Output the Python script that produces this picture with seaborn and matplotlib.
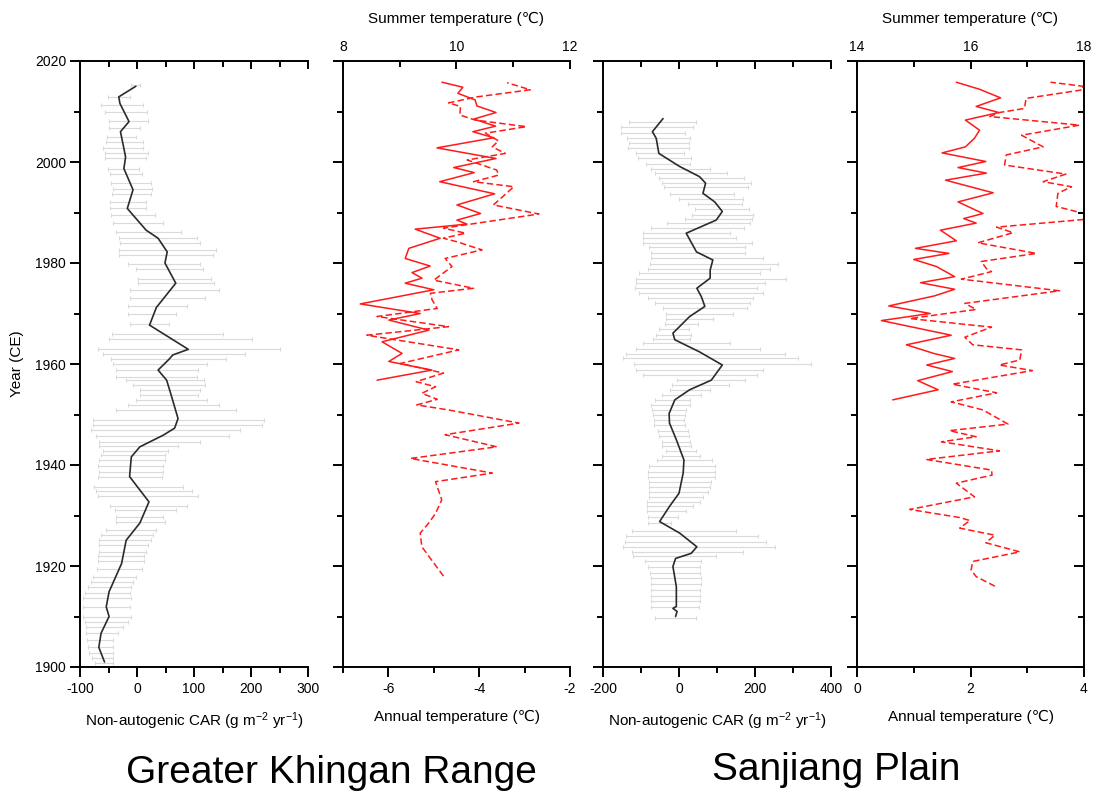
import matplotlib
matplotlib.use("Agg")
import matplotlib.pyplot as plt
import seaborn as sns
import numpy as np
from matplotlib.ticker import MultipleLocator

sns.set_style("ticks")
plt.rcParams["font.family"] = ["Liberation Sans", "DejaVu Sans"]
plt.rcParams["mathtext.default"] = "regular"
plt.rcParams["axes.unicode_minus"] = False
for key in ("text.color", "axes.labelcolor", "xtick.color", "ytick.color", "axes.edgecolor"):
    plt.rcParams[key] = "black"

# ---------------- Greater Khingan Range ----------------
# smoothed non-autogenic carbon accumulation rate
gkr_car_year = [2015.0, 2012.9, 2011.6, 2008.0, 2006.0, 2001.0, 1998.7, 1994.5, 1990.8, 1986.5,
                1984.9, 1982.2, 1980.0, 1976.0, 1971.2, 1967.7, 1962.9, 1961.8, 1960.8, 1958.8,
                1956.8, 1954.2, 1949.2, 1947.3, 1945.9, 1943.6, 1941.6, 1937.7, 1932.7, 1928.5,
                1925.1, 1920.5, 1914.9, 1911.9, 1910.0, 1906.7, 1903.9, 1901.0]
gkr_car = [-2, -32, -30, -14, -29, -20, -23, -7, -17, 16,
           37, 53, 49, 68, 34, 22, 90, 63, 55, 37,
           52, 59, 72, 66, 46, 5, -10, -13, 21, 5,
           -19, -27, -49, -54, -49, -63, -67, -57]

# sample-level uncertainty ranges
gkr_err_year = [2015.2, 2012.9, 2011.3, 2010.0, 2008.1, 2006.7, 2004.9, 2004.0, 2002.7, 2001.7,
                2000.7, 1998.7, 1997.6, 1995.8, 1994.6, 1993.7, 1992.1, 1990.8, 1989.5, 1987.9,
                1986.2, 1984.9, 1983.9, 1982.6, 1981.6, 1979.9, 1978.9, 1976.8, 1976.0, 1974.6,
                1973.0, 1971.4, 1970.0, 1967.9, 1965.9, 1964.9, 1962.9, 1962.0, 1960.9, 1960.0,
                1958.8, 1957.5, 1956.8, 1955.8, 1954.9, 1953.9, 1952.9, 1951.9, 1950.9, 1948.9,
                1947.9, 1946.9, 1945.8, 1944.6, 1943.8, 1942.8, 1942.0, 1941.0, 1939.8, 1938.7,
                1937.7, 1935.7, 1934.9, 1933.9, 1931.9, 1931.0, 1929.8, 1928.8, 1927.1, 1926.1,
                1925.2, 1924.2, 1922.8, 1921.9, 1920.9, 1919.5, 1917.8, 1916.9, 1915.9, 1914.6,
                1913.6, 1911.9, 1910.0, 1909.0, 1908.0, 1906.7, 1905.4, 1903.9, 1902.7, 1901.7,
                1900.7]
gkr_err_lo = [-11, -51, -63, -57, -49, -49, -52, -54, -59, -57,
              -57, -51, -47, -45, -42, -43, -47, -48, -45, -42,
              -36, -31, -29, -31, -31, -16, -2, 2, 2, -13,
              -13, -16, -16, -13, -43, -50, -68, -60, -45, -42,
              -37, -37, -19, -7, 5, 5, -1, -16, -36, -77,
              -77, -80, -72, -66, -66, -60, -63, -67, -69, -67,
              -69, -75, -72, -69, -48, -39, -36, -36, -55, -63,
              -66, -67, -67, -69, -69, -70, -77, -80, -86, -92,
              -94, -95, -94, -92, -90, -89, -88, -86, -85, -79,
              -73]
gkr_err_hi = [6, -13, 10, 18, 19, 5, -2, 10, 10, 19,
              16, 4, 8, 24, 27, 25, 15, 15, 31, 45,
              78, 106, 110, 138, 134, 110, 115, 129, 135, 143,
              120, 87, 69, 57, 150, 201, 250, 190, 157, 122,
              107, 106, 117, 119, 110, 107, 122, 144, 174, 223,
              219, 181, 162, 110, 72, 54, 49, 49, 46, 46,
              43, 81, 96, 107, 87, 69, 46, 49, 34, 28,
              25, 19, 15, 13, 13, 8, -1, -7, -10, -12,
              -10, -12, -10, -16, -25, -33, -42, -42, -42, -42,
              -42]

# reconstructed temperatures
gkr_ann_year = [2015.8, 2014.8, 2013.6, 2012.3, 2011.1, 2009.8, 2008.5, 2007.1, 2006.0, 2004.8,
                2002.8, 2000.7, 1998.9, 1997.9, 1996.1, 1993.7, 1991.5, 1989.8, 1988.5, 1987.7,
                1986.7, 1984.9, 1982.9, 1980.9, 1979.4, 1978.1, 1977.0, 1976.0, 1974.7, 1971.9,
                1970.0, 1968.7, 1966.7, 1964.4, 1962.1, 1960.5, 1958.8, 1956.8]
gkr_ann = [-4.82, -4.36, -4.47, -4.09, -4.05, -3.63, -4.12, -3.64, -4.14, -3.68,
           -4.93, -3.63, -4.56, -4.11, -4.87, -3.66, -4.49, -3.97, -4.49, -4.27,
           -5.41, -4.86, -5.55, -5.63, -5.08, -5.48, -5.26, -5.63, -5.00, -6.62,
           -5.30, -5.99, -5.11, -6.14, -5.70, -5.99, -5.04, -6.25]

gkr_sum_year = [2015.7, 2014.3, 2012.9, 2011.7, 2011.0, 2009.3, 2008.3, 2007.0, 2005.7, 2004.2,
                2003.0, 2001.7, 2000.4, 1998.4, 1997.4, 1996.1, 1995.1, 1991.5, 1989.7, 1986.9,
                1985.9, 1984.9, 1984.2, 1982.6, 1980.9, 1979.3, 1976.6, 1975.0, 1974.0, 1972.7,
                1971.0, 1969.4, 1967.4, 1965.7, 1962.8, 1960.1, 1958.2, 1956.5, 1955.5, 1954.2,
                1953.0, 1951.9, 1950.9, 1948.3, 1946.0, 1943.6, 1941.3, 1938.4, 1936.7, 1933.1,
                1930.4, 1928.5, 1926.5, 1923.8, 1921.5, 1918.0]
gkr_sum = [10.89, 11.30, 10.36, 9.86, 10.07, 10.06, 10.33, 11.23, 10.51, 10.74,
           10.63, 10.86, 10.19, 10.71, 10.74, 10.30, 11.01, 10.65, 11.45, 9.77,
           10.16, 9.77, 10.01, 10.45, 9.80, 9.92, 9.60, 10.30, 9.54, 9.57,
           9.66, 8.60, 9.86, 8.42, 10.04, 9.01, 9.77, 9.29, 9.63, 9.39,
           9.66, 9.30, 9.86, 11.10, 9.80, 10.71, 9.19, 10.63, 9.63, 9.74,
           9.63, 9.51, 9.36, 9.39, 9.54, 9.77]

# ---------------- Sanjiang Plain ----------------
sj_car_year = [2008.6, 2006.0, 2004.7, 2001.7, 1999.1, 1997.1, 1995.8, 1993.8, 1992.1, 1990.2,
               1988.5, 1985.9, 1982.2, 1980.6, 1978.6, 1977.0, 1975.0, 1973.3, 1971.4, 1969.4,
               1966.1, 1964.8, 1962.4, 1959.8, 1956.8, 1954.9, 1952.9, 1950.2, 1948.3, 1945.0,
               1941.0, 1938.4, 1934.4, 1931.8, 1928.8, 1926.5, 1923.8, 1922.5, 1921.5, 1919.9,
               1915.9, 1912.0, 1911.6, 1911.0, 1910.0]
sj_car = [-42, -70, -60, -53, 2, 54, 70, 63, 94, 114,
          98, 19, 46, 89, 82, 82, 47, 59, 68, 28,
          -16, -11, 54, 114, 85, 28, -11, -26, -25, -7,
          13, 11, 0, -25, -51, 2, 47, 32, -9, -16,
          -7, -7, -16, -5, -9]

sj_err_year = [2008.0, 2006.9, 2005.8, 2004.7, 2003.7, 2002.8, 2001.7, 2000.7, 1999.7, 1998.7,
               1997.8, 1996.8, 1995.9, 1995.0, 1993.7, 1992.6, 1991.7, 1990.6, 1989.6, 1988.8,
               1987.9, 1986.9, 1986.0, 1984.9, 1983.9, 1983.1, 1981.9, 1980.9, 1979.9, 1978.9,
               1978.0, 1976.8, 1976.0, 1975.0, 1974.0, 1973.0, 1972.0, 1971.0, 1970.0, 1969.0,
               1968.0, 1966.9, 1965.7, 1964.9, 1964.1, 1962.9, 1962.0, 1961.1, 1960.0,
               1958.8, 1957.8, 1956.8, 1955.8, 1954.9, 1953.9, 1952.9, 1951.9, 1950.9, 1949.9,
               1948.9, 1947.9, 1946.8, 1945.7, 1944.6, 1943.8, 1942.8, 1941.8, 1941.0, 1939.8,
               1938.7, 1937.7, 1936.7, 1935.7, 1934.7, 1933.7, 1932.7, 1931.8, 1930.8, 1929.8,
               1928.6, 1927.0, 1926.0, 1924.8, 1923.8, 1922.8, 1921.9, 1920.9, 1919.9, 1918.6,
               1917.6, 1916.4, 1915.3, 1914.1, 1913.0, 1911.8, 1909.8]
sj_err_lo = [-132, -152, -152, -137, -132, -134, -114, -108, -86, -73,
             -64, -53, -46, -40, -25, 0, 24, 41, 35, 15,
             -32, -73, -95, -96, -95, -79, -75, -73, -77, -82,
             -104, -112, -114, -117, -105, -82, -64, -42, -33, -35,
             -38, -53, -60, -68, -95, -114, -139, -147, -119,
             -112, -95, -5, -18, -25, -44, -64, -73, -70, -68,
             -67, -67, -55, -53, -46, -46, -35, -46, -58, -79,
             -82, -82, -79, -79, -79, -79, -84, -84, -84, -82,
             -82, -125, -139, -143, -147, -125, -121, -90, -82, -77,
             -75, -75, -73, -75, -75, -73, -64]
sj_err_hi = [46, 37, 15, 28, 26, 26, 12, 32, 28, 82,
             126, 170, 190, 182, 144, 168, 167, 184, 195, 193,
             188, 170, 133, 151, 193, 173, 173, 221, 261, 239,
             212, 282, 225, 204, 221, 195, 186, 179, 143, 89,
             50, 26, 32, 28, 133, 212, 278, 313, 348,
             221, 204, 173, 132, 81, 59, 28, 28, 18, 15,
             12, 15, 24, 26, 28, 32, 46, 54, 88, 96,
             96, 94, 85, 82, 76, 63, 54, 37, 18, -3,
             -20, 151, 208, 230, 252, 168, 98, 59, 56, 54,
             59, 59, 56, 54, 54, 53, 44]

sj_ann_year = [2015.8, 2014.4, 2012.7, 2011.0, 2009.8, 2008.3, 2006.3, 2004.7, 2003.0, 2001.8,
               2000.1, 1998.9, 1997.8, 1996.4, 1993.9, 1992.1, 1989.8, 1988.8, 1987.9, 1986.5,
               1984.4, 1982.9, 1981.9, 1980.7, 1979.3, 1977.3, 1976.1, 1974.8, 1973.5, 1971.5,
               1970.0, 1968.6, 1965.7, 1963.8, 1962.1, 1961.1, 1959.8, 1958.5, 1956.7, 1954.9,
               1952.9]
sj_ann = [1.75, 2.16, 2.53, 2.10, 2.50, 1.91, 2.16, 2.07, 1.91, 1.50,
          2.27, 1.78, 2.28, 1.56, 2.40, 1.78, 2.22, 1.88, 2.10, 1.47,
          1.75, 1.03, 1.62, 1.00, 1.40, 1.72, 1.12, 1.72, 1.37, 0.56,
          1.29, 0.43, 1.66, 0.87, 1.35, 1.72, 1.23, 1.68, 1.07, 1.43,
          0.63]

sj_sum_year = [2015.8, 2015.0, 2014.3, 2012.6, 2010.6, 2009.8, 2009.0, 2007.3, 2005.3, 2003.0,
               2001.4, 1999.4, 1997.6, 1996.1, 1995.1, 1993.8, 1991.2, 1989.8, 1988.6, 1987.1,
               1986.0, 1984.0, 1981.9, 1980.3, 1978.9, 1978.3, 1976.8, 1974.5, 1972.0, 1970.8,
               1969.0, 1967.3, 1965.3, 1963.8, 1962.8, 1960.8, 1959.8, 1958.7, 1956.0, 1954.3,
               1952.5, 1950.9, 1948.1, 1946.8, 1945.6, 1944.6, 1942.8, 1941.1, 1939.0, 1938.0,
               1936.4, 1933.7, 1931.2, 1929.6, 1929.0, 1927.5, 1926.1, 1924.6, 1922.8, 1920.9,
               1919.2, 1917.9, 1916.0]
sj_sum = [17.41, 17.98, 17.98, 16.98, 16.95, 16.51, 16.34, 17.92, 16.90, 17.28,
          16.63, 16.60, 17.68, 17.28, 17.78, 17.54, 17.51, 18.00, 17.98, 16.46,
          16.75, 16.13, 17.16, 16.19, 16.28, 16.37, 15.84, 17.57, 15.90, 16.10,
          14.93, 16.37, 15.90, 16.04, 16.90, 16.87, 16.51, 17.09, 15.68, 16.46,
          15.66, 16.22, 16.66, 15.63, 16.10, 15.49, 16.51, 15.22, 16.37, 16.38,
          15.75, 16.07, 14.93, 15.81, 15.99, 15.81, 16.43, 16.27, 16.87, 16.04,
          16.01, 16.10, 16.43]

# ---------------- layout ----------------
W, H = 1096, 793
fig = plt.figure(figsize=(W / 100, H / 100), dpi=100)

def frac(left, right, top=61, bottom=667):
    return [left / W, 1 - bottom / H, (right - left) / W, (bottom - top) / H]

SPINE_W = 1.4
TICK_FS = 10
LABEL_FS = 11
RED = "#ff1a1a"
DASH = (0, (4.2, 2.1))
ERR_C = "#dadada"

def year_axis(ax, labels):
    ax.set_ylim(1900, 2020)
    ax.yaxis.set_major_locator(MultipleLocator(20))
    ax.yaxis.set_minor_locator(MultipleLocator(10))
    ax.tick_params(axis="y", which="major", direction="out", length=7, width=SPINE_W,
                   labelleft=labels, labelsize=TICK_FS, pad=3)
    ax.tick_params(axis="y", which="minor", direction="out", length=4, width=SPINE_W)

def x_axis(ax, lim, major, minor):
    ax.set_xlim(*lim)
    ax.xaxis.set_major_locator(MultipleLocator(major))
    ax.xaxis.set_minor_locator(MultipleLocator(minor))
    ax.tick_params(axis="x", which="major", direction="out", length=7, width=SPINE_W,
                   labelsize=TICK_FS, pad=4)
    ax.tick_params(axis="x", which="minor", direction="out", length=4, width=SPINE_W)
    for s in ("top", "right"):
        ax.spines[s].set_visible(False)
    for s in ("left", "bottom"):
        ax.spines[s].set_linewidth(SPINE_W)

def top_axis(ax, lim, major, minor, labels):
    tw = ax.twiny()
    tw.set_xlim(*lim)
    tw.xaxis.set_major_locator(MultipleLocator(major))
    tw.xaxis.set_minor_locator(MultipleLocator(minor))
    tw.tick_params(axis="x", which="major", direction="in", length=6, width=SPINE_W,
                   labeltop=labels, labelsize=TICK_FS, pad=5)
    tw.tick_params(axis="x", which="minor", direction="in", length=4, width=SPINE_W)
    for s in ("bottom", "left", "right"):
        tw.spines[s].set_visible(False)
    tw.spines["top"].set_linewidth(SPINE_W)
    return tw

def car_panel(ax, err_year, lo, hi, line_year, line_val):
    lo = np.asarray(lo, float)
    hi = np.asarray(hi, float)
    ax.errorbar((lo + hi) / 2, err_year, xerr=(hi - lo) / 2, fmt="none", ecolor=ERR_C,
                elinewidth=0.8, capsize=1.6, capthick=0.8, zorder=1)
    sns.lineplot(x=line_val, y=line_year, orient="y", estimator=None, ax=ax,
                 color="#2b2b2b", linewidth=1.2, zorder=3)

def temp_line(ax, vals, years, dashed=False):
    kw = dict(linestyle=DASH) if dashed else {}
    sns.lineplot(x=vals, y=years, orient="y", estimator=None, ax=ax,
                 color=RED, linewidth=1.1, solid_joinstyle="round", **kw)

# Panel 1: Greater Khingan CAR
ax1 = fig.add_axes(frac(80, 308))
car_panel(ax1, gkr_err_year, gkr_err_lo, gkr_err_hi, gkr_car_year, gkr_car)
x_axis(ax1, (-100, 300), 100, 50)
year_axis(ax1, True)
top_axis(ax1, (-100, 300), 100, 50, False)
ax1.set_ylabel("Year (CE)", fontsize=LABEL_FS, labelpad=8)
ax1.set_xlabel(r"Non-autogenic CAR (g m$^{-2}$ yr$^{-1}$)", fontsize=LABEL_FS, labelpad=10)

# Panel 2: Greater Khingan temperatures
ax2 = fig.add_axes(frac(343, 570))
temp_line(ax2, gkr_ann, gkr_ann_year)
x_axis(ax2, (-7, -2), 2, 1)
year_axis(ax2, False)
tw2 = top_axis(ax2, (8, 12), 2, 1, True)
temp_line(tw2, gkr_sum, gkr_sum_year, dashed=True)
tw2.set_xlim(8, 12)
ax2.set_ylim(1900, 2020)
ax2.set_xlabel("Annual temperature (\u2103)", fontsize=LABEL_FS, labelpad=10)
tw2.set_xlabel("Summer temperature (\u2103)", fontsize=LABEL_FS, labelpad=12)

# Panel 3: Sanjiang CAR
ax3 = fig.add_axes(frac(603, 831))
car_panel(ax3, sj_err_year, sj_err_lo, sj_err_hi, sj_car_year, sj_car)
x_axis(ax3, (-200, 400), 200, 100)
year_axis(ax3, False)
top_axis(ax3, (-200, 400), 200, 100, False)
ax3.set_xlabel(r"Non-autogenic CAR (g m$^{-2}$ yr$^{-1}$)", fontsize=LABEL_FS, labelpad=10)

# Panel 4: Sanjiang temperatures
ax4 = fig.add_axes(frac(857, 1084))
temp_line(ax4, sj_ann, sj_ann_year)
x_axis(ax4, (0, 4), 2, 1)
year_axis(ax4, False)
tw4 = top_axis(ax4, (14, 18), 2, 1, True)
temp_line(tw4, sj_sum, sj_sum_year, dashed=True)
tw4.set_xlim(14, 18)
ax4.set_ylim(1900, 2020)
# right-hand year ticks pointing inward
rt = ax4.twinx()
rt.set_ylim(1900, 2020)
rt.yaxis.set_major_locator(MultipleLocator(20))
rt.yaxis.set_minor_locator(MultipleLocator(10))
rt.tick_params(axis="y", which="major", direction="in", length=7, width=SPINE_W, labelright=False)
rt.tick_params(axis="y", which="minor", direction="in", length=4, width=SPINE_W)
for s in ("top", "bottom", "left"):
    rt.spines[s].set_visible(False)
rt.spines["right"].set_linewidth(SPINE_W)
ax4.set_xlabel("Annual temperature (\u2103)", fontsize=LABEL_FS, labelpad=10)
tw4.set_xlabel("Summer temperature (\u2103)", fontsize=LABEL_FS, labelpad=12)

# region names
fig.text(331 / W, 1 - 773 / H, "Greater Khingan Range", fontsize=28, ha="center", va="center")
fig.text(836 / W, 1 - 770 / H, "Sanjiang Plain", fontsize=28, ha="center", va="center")

fig.savefig("out.png", dpi=100)
